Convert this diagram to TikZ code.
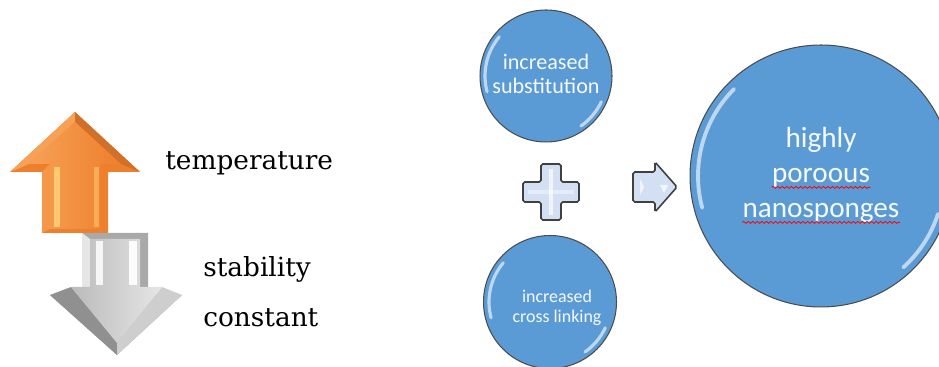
\documentclass[tikz,border=0pt]{standalone}
\usepackage{fontspec}
\setmainfont{DejaVu Serif}
\newfontfamily\calib{Carlito}
\usepackage{xcolor}
\usepackage{tikz}
\usetikzlibrary{decorations.pathmorphing}
\definecolor{ballblue}{HTML}{5B9BD5}
\definecolor{upor}{HTML}{EE7F2D}
\definecolor{uporlight}{HTML}{F6A155}
\definecolor{uppale}{HTML}{FFD27A}
\definecolor{downgray}{HTML}{A9A9A9}
\definecolor{downlight}{HTML}{E6E6E6}
\definecolor{signblue}{HTML}{D3E0F3}

\begin{document}
\begin{tikzpicture}[x=0.02cm,y=0.02cm,
	ball/.style={circle,draw=black!70,line width=0.6pt,fill=ballblue,inner sep=0pt},
	balltext/.style={text=white!94!ballblue,align=center,inner sep=0pt},
	gloss/.style={white,opacity=0.6,line width=1.8pt,line cap=round},
	wavy/.style={red,line width=0.45pt,decorate,decoration={snake,amplitude=0.55pt,segment length=2.6pt}},
	sidetext/.style={font=\fontsize{15}{17}\selectfont,text=black,inner sep=0pt,anchor=base west},
	signshape/.style={draw=black!75,line width=0.9pt,fill=signblue,rounded corners=1pt}]
	\useasboundingbox (0,0) rectangle (939,367);
	
	% up arrow (orange, bevelled)
	\fill[upor] (42,134) -- (108,134) -- (108,195) -- (140,195) -- (75,255) -- (10,195) -- (42,195) -- cycle;
	\fill[uporlight] (10,195) -- (29,203) -- (75,245) -- (75,255) -- cycle;
	\fill[upor!88!black] (140,195) -- (121,203) -- (75,245) -- (75,255) -- cycle;
	\fill[uporlight!70!upor] (42,134) -- (50,138) -- (50,203) -- (42,195) -- cycle;
	\shade[left color=uporlight,right color=upor] (50,138) -- (100,138) -- (100,203) -- (121,203) -- (75,245) -- (29,203) -- (50,203) -- cycle;
	\fill[uppale,opacity=0.85] (54,140) rectangle (60,200);
	\fill[uppale,opacity=0.5] (94,140) rectangle (99,200);
	
	% down arrow (gray, bevelled)
	\fill[downgray] (82,134) -- (148,134) -- (148,72) -- (182,72) -- (117,12) -- (50,72) -- (82,72) -- cycle;
	\fill[downgray!85!black] (50,72) -- (71,80) -- (117,24) -- (117,12) -- cycle;
	\fill[downlight!60!downgray] (182,72) -- (162,80) -- (117,24) -- (117,12) -- cycle;
	\fill[downlight] (82,134) -- (90,128) -- (90,80) -- (82,72) -- cycle;
	\shade[left color=downgray!80,right color=downlight] (90,128) -- (140,128) -- (140,80) -- (162,80) -- (117,24) -- (71,80) -- (90,80) -- cycle;
	\fill[white,opacity=0.85] (96,82) rectangle (103,126);
	\fill[white,opacity=0.9] (129,82) rectangle (137,126);
	
	\node[sidetext] (temp) at (165,197) {temperature};
	\node[sidetext] (stab) at (203,90) {stability};
	\node[sidetext] (const) at (203,40) {constant};
	
	% the three balls
	\node[ball,minimum size=2.64cm] (subst) at (546,291) {};
	\node[ball,minimum size=2.66cm] (cross) at (550,65) {};
	\node[ball,minimum size=5.24cm] (pores) at (821,191) {};
	\draw[gloss] (subst.center) ++(140:1.22cm) arc[start angle=140,end angle=195,radius=1.22cm];
	\draw[gloss] (subst.center) ++(305:1.22cm) arc[start angle=305,end angle=335,radius=1.22cm];
	\draw[gloss] (cross.center) ++(140:1.22cm) arc[start angle=140,end angle=195,radius=1.22cm];
	\draw[gloss] (cross.center) ++(305:1.22cm) arc[start angle=305,end angle=335,radius=1.22cm];
	\draw[gloss,line width=2.2pt] (pores.center) ++(135:2.46cm) arc[start angle=135,end angle=195,radius=2.46cm];
	\draw[gloss,line width=2.2pt] (pores.center) ++(312:2.46cm) arc[start angle=312,end angle=342,radius=2.46cm];
	
	\node[balltext,font=\calib\fontsize{12.6}{13.5}\selectfont] (subtxt) at (546,293) {increased\\substitution};
	\node[balltext,font=\calib\fontsize{10.2}{11.3}\selectfont] (crosstxt) at (557,59) {increased\\cross linking};
	\node[balltext,font=\calib\fontsize{16.6}{19}\selectfont,anchor=base] (hi) at (821,219) {highly};
	\node[balltext,font=\calib\fontsize{16.6}{19}\selectfont,anchor=base] (por) at (821,184) {poroous};
	\node[balltext,font=\calib\fontsize{16.6}{19}\selectfont,anchor=base] (nano) at (821,149) {nanosponges};
	\draw[wavy] ([yshift=-2.5pt]por.base west) -- ([yshift=-2.5pt]por.base east);
	\draw[wavy] ([yshift=-2.5pt]nano.base west) -- ([yshift=-2.5pt]nano.base east);
	
	% plus sign and arrow
	\filldraw[signshape] (541,147) -- (561,147) -- (561,165) -- (579,165) -- (579,185) -- (561,185) -- (561,203) -- (541,203) -- (541,185) -- (523,185) -- (523,165) -- (541,165) -- cycle;
	\fill[white,opacity=0.7] (549,152) rectangle (553,198);
	\fill[white,opacity=0.4] (528,173) rectangle (574,177);
	\filldraw[signshape] (633,165) -- (655,165) -- (655,155) -- (677,180) -- (655,205) -- (655,195) -- (633,195) -- cycle;
	\fill[white,opacity=0.7] (640,172) -- (644,180) -- (640,188) -- cycle;
	\fill[white,opacity=0.7] (664,174) -- (668,182) -- (660,182) -- cycle;
\end{tikzpicture}
\end{document}
